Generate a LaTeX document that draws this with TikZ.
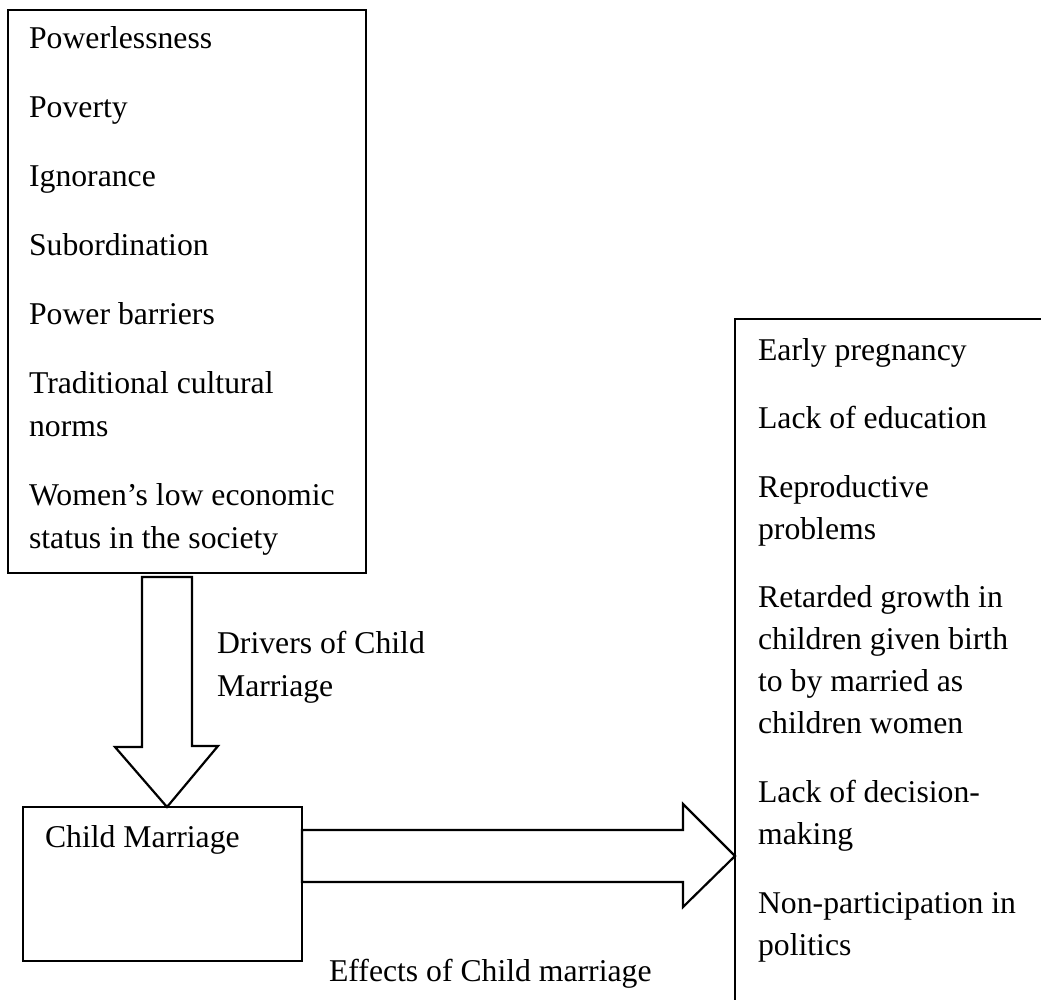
\documentclass[tikz,border=0pt]{standalone}
\usepackage{fontspec}
\setmainfont{Liberation Serif}

\begin{document}
\begin{tikzpicture}[x = 1pt, y = -1pt, line width = 2.2pt,
  box/.style = {draw, shape = rectangle, inner sep = 0pt, outer sep = 0pt, anchor = north west},
  txt/.style = {inner sep = 0pt, anchor = base west, align = left, font = \fontsize{31.7}{43}\selectfont},
  blockarrow/.style = {draw, line join = miter}]
\useasboundingbox (0,0) rectangle (1041,1000);

\node[box, minimum width = 358pt, minimum height = 563pt] (drivers) at (8,10) {};
\node[box, minimum width = 279pt, minimum height = 154pt] (cm) at (23,807) {};
\begin{scope}
\clip (0,0) rectangle (1041,1000);
\node[box, minimum width = 400pt, minimum height = 800pt] (effects) at (735,319) {};
\end{scope}

% lists are placed by the baseline of their last line
\node[txt] (causes) at (28,548) {Powerlessness\\[26pt] Poverty\\[26pt] Ignorance\\[26pt] Subordination\\[26pt] Power barriers\\[26pt] Traditional cultural\\ norms\\[26pt] Women’s low economic\\ status in the society};
\node[txt, font = \fontsize{31.7}{42}\selectfont] (outcomes) at (757,955) {Early pregnancy\\[26.6pt] Lack of education\\[26.6pt] Reproductive\\ problems\\[26.6pt] Retarded growth in\\ children given birth\\ to by married as\\ children women\\[26.6pt] Lack of decision-\\ making\\[26.6pt] Non-participation in\\ politics};
\node[txt] (cmlabel) at (44,847) {Child Marriage};
\node[txt] (drvlabel) at (216,696) {Drivers of Child\\ Marriage};
\node[txt] (efflabel) at (328,981) {Effects of Child marriage};

% block arrows
\path (drivers.south) ++(-20,4) coordinate (dtail);
\path (cm.north) ++(4.5,0) coordinate (dtip);
\draw[blockarrow] (dtail) ++(-25,0) -- ++(50,0) -- ++(0,169) -- ++(26,0) -- (dtip) -- ++(-52,-60) -- ++(27,0) -- cycle;

\path (cm.east) ++(0,-28) coordinate (etail);
\path (effects.north west) ++(0,537) coordinate (etip);
\draw[blockarrow] (etail) ++(0,-26) -- ++(381,0) -- ++(0,-26) -- (etip) -- ++(-52,51) -- ++(0,-25) -- ++(-381,0) -- cycle;
\end{tikzpicture}
\end{document}
